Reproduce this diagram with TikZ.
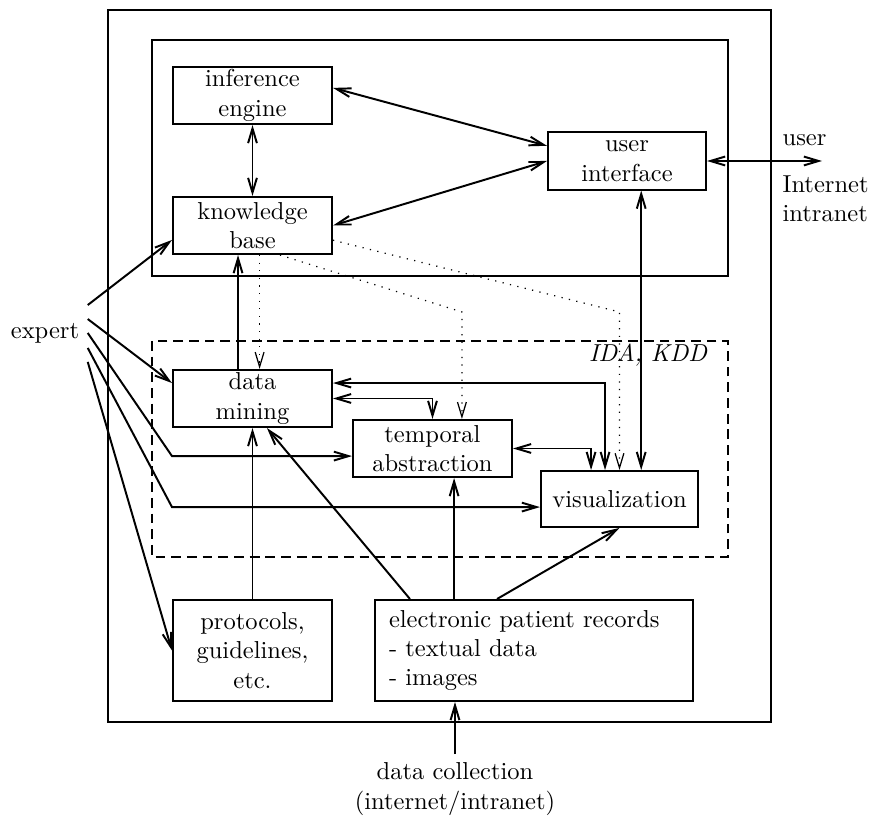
\documentclass[tikz,border=0pt]{standalone}
\usetikzlibrary{arrows.meta}

\begin{document}
\begin{tikzpicture}[x=0.408pt, y=-0.408pt,
  box/.style = {rectangle, draw, line width=.8pt, minimum width=64.9pt, minimum height=23.3pt, align=center, inner sep=0pt},
  link/.style = {line width=.8pt},
  hint/.style = {line width=.5pt, dash pattern=on .5pt off 2.6pt},
  >={Straight Barb[length=6pt, width=3.6pt]}]

\useasboundingbox (0,0) rectangle (873,820);

\draw[link] (108,10) rectangle (771,722);
\draw[link] (152,40) rectangle (728,276);
\draw[link, dash pattern=on 4pt off 2.4pt] (152,341) rectangle (728,557);

\node[box] (inf) at (252.5,95.5) {inference\\engine};
\node[box] (kb) at (252.5,225.5) {knowledge\\base};
\node[box, minimum width=64.5pt] (ui) at (627,161) {user\\interface};

\node[box] (dm) at (252.5,398.5) {data\\mining};
\node[box] (ta) at (432.5,448.5) {temporal\\abstraction};
\node[box, minimum width=64.1pt, minimum height=22.8pt] (vis) at (619.5,499) {visualization};

\node[box, minimum height=41.2pt] (prot) at (252.5,650.5) {protocols,\\guidelines,\\etc.};
\node[box, minimum height=41.2pt, align=left, text width=118.3pt, inner xsep=5.7pt] (epr) at (534,650.5) {electronic patient records\\- textual data\\- images};

\node (expert) at (45,333) {expert};
\node[anchor=east] (ida) at (716,355) {\textit{IDA, KDD}};
\node[anchor=west] (user) at (774,140) {user};
\node[anchor=west, align=left] (net) at (774,199) {Internet\\intranet};
\node[align=center] (dc) at (455,789) {data collection\\(internet/intranet)};

\coordinate (uend) at (822,161);
\coordinate (kink) at (0,312);

\draw[link,<->] ([yshift=3.1pt]inf.east) -- ([yshift=6.2pt]ui.west);
\draw[link,<->] (kb.east) -- (ui.west);
\draw[link,<->] (inf.south) -- (kb.north);
\draw[link,<->] (ui.east) -- (uend);
\draw[link,<->] ([xshift=5.8pt]ui.south) -- ([xshift=5.8pt]ui.south |- vis.north);

\draw[link,->] ([xshift=-5.9pt]dm.north) -- ([xshift=-5.9pt]dm.north |- kb.south);
\draw[hint,->] ([xshift=2.9pt]kb.south) -- ([xshift=2.9pt]kb.south |- dm.north);
\draw[hint,->] ([xshift=11.2pt]kb.south) -- ([xshift=12pt]ta.north |- kink) -- ([xshift=12pt]ta.north);
\draw[hint,->] ([yshift=-6pt]kb.east) -- (vis.north |- kink) -- (vis.north);

\draw[link,<->] ([yshift=6.3pt]dm.east) -| ([xshift=-5.9pt]vis.north);
\draw[link,<->] (dm.east) -| (ta.north);
\draw[link,<->] (ta.east) -| ([xshift=-11.6pt]vis.north);

\draw[link,->] ([yshift=11.4pt]expert.east) -- ([yshift=-5.9pt]kb.west);
\draw[link,->] ([yshift=5.7pt]expert.east) -- ([yshift=6.3pt]dm.west);
\draw[link,->] (expert.east) -- ([yshift=-3.1pt]ta.west -| dm.west) -- ([yshift=-3.1pt]ta.west);
\draw[link,->] ([yshift=-6.1pt]expert.east) -- ([yshift=-3.3pt]vis.west -| dm.west) -- ([yshift=-3.3pt]vis.west);
\draw[link,->] ([yshift=-11.8pt]expert.east) -- (prot.west);

\draw[link,->] (prot.north) -- (dm.south);
\draw[link,->] ([xshift=-50.6pt]epr.north) -- ([xshift=5.9pt]dm.south);
\draw[link,->] ([xshift=-32.6pt]epr.north) -- ([xshift=-32.6pt]epr.north |- ta.south);
\draw[link,->] ([xshift=-15.1pt]epr.north) -- (vis.south);
\draw[link,->] (dc.north) -- (dc.north |- epr.south);

\end{tikzpicture}
\end{document}
